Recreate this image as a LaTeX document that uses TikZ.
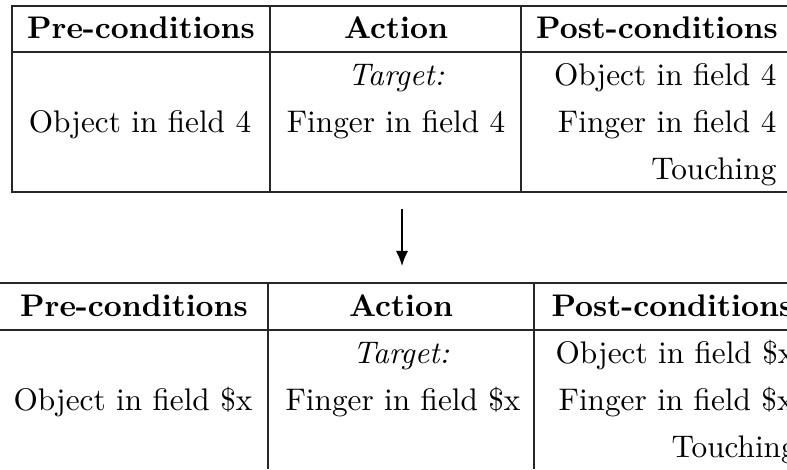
\documentclass[tikz,border=0pt]{standalone}
\usetikzlibrary{arrows.meta}
\begin{document}
\begin{tikzpicture}[x=0.32pt,y=-0.32pt,
  rule/.style={line width=0.4pt,draw=black!85},
  cell/.style={inner sep=0pt,anchor=base},
  rcell/.style={inner sep=0pt,anchor=base east},
  hd/.style={cell,font=\bfseries}]
\useasboundingbox (0,0) rectangle (787,469);
% ---- top table ----
\draw[rule] (787,6) -- (12,6) -- (12,192) -- (787,192);
\draw[rule] (12,52) -- (787,52);
\draw[rule] (270,6) -- (270,192);
\draw[rule] (521,6) -- (521,192);
\node[hd] (th1) at (141,39) {Pre-conditions};
\node[hd] (th2) at (396,39) {Action};
\node[hd] (th3) at (657,39) {Post-conditions};
\node[cell] (tp1) at (140,133) {Object in field 4};
\node[cell] (ta1) at (396,86) {\itshape Target:};
\node[cell] (ta2) at (396,133) {Finger in field 4};
\node[rcell] (tq1) at (777,86) {Object in field 4};
\node[rcell] (tq2) at (777,133) {Finger in field 4};
\node[rcell] (tq3) at (777,180) {Touching};
% ---- arrow ----
\coordinate (arrS) at (402,209);
\coordinate (arrE) at (402,266);
\draw[line width=0.5pt,-{Latex[length=4.8pt,width=3.9pt]}] (arrS) -- (arrE);
% ---- bottom table ----
\draw[rule] (0,283) -- (787,283);
\draw[rule] (0,330) -- (787,330);
\draw[rule] (268,283) -- (268,469);
\draw[rule] (534,283) -- (534,469);
\node[hd] (bh1) at (134,316) {Pre-conditions};
\node[hd] (bh2) at (401,316) {Action};
\node[cell,anchor=base west,font=\bfseries] (bh3) at (551,316) {Post-conditions};
\node[cell] (bp1) at (133,410) {Object in field \$x};
\node[cell] (ba1) at (401,363) {\itshape Target:};
\node[cell] (ba2) at (403,410) {Finger in field \$x};
\node[cell,anchor=base west] (bq1) at (555,363) {Object in field \$x};
\node[cell,anchor=base west] (bq2) at (558,410) {Finger in field \$x};
\node[cell,anchor=base west] (bq3) at (671,457) {Touching};
\end{tikzpicture}
\end{document}
